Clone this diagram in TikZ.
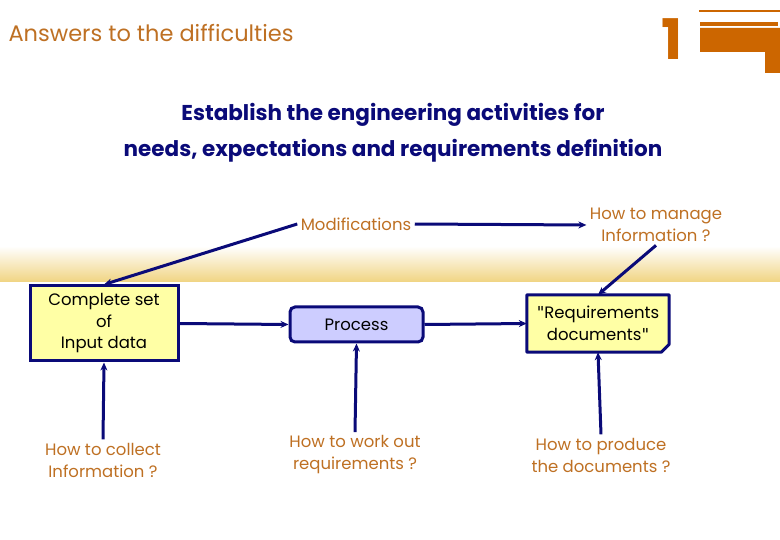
\documentclass[tikz,border=0pt]{standalone}
\usepackage{fontspec}
\setmainfont{Poppins}
\newfontfamily\quotefont{DejaVu Sans}
\usepackage{tikz}
\usetikzlibrary{arrows.meta, positioning}
\definecolor{textbrown}{RGB}{190,112,35}
\definecolor{logoorange}{RGB}{204,102,0}
\definecolor{navyblue}{RGB}{10,10,120}
\definecolor{boxyellow}{RGB}{255,255,165}
\definecolor{proclavender}{RGB}{205,205,255}
\definecolor{bandgold}{RGB}{240,212,130}
\newcommand{\strq}{{\quotefont\symbol{34}}}

\begin{document}
\begin{tikzpicture}[x=1pt, y=-1pt,
  box/.style={draw=navyblue, line width=3pt, fill=boxyellow, align=center,
              font=\fontsize{16.5}{21.5}\selectfont, inner sep=0pt},
  procbox/.style={draw=navyblue, line width=3pt, fill=proclavender, rounded corners=5pt,
                  font=\fontsize{16.5}{21.5}\selectfont, inner sep=0pt,
                  minimum width=133pt, minimum height=35pt},
  question/.style={text=textbrown, align=center, font=\fontsize{16.5}{22}\selectfont},
  arrow/.style={-{Stealth[length=8pt, width=7pt]}, line width=3pt, navyblue}
]
\useasboundingbox (0,0) rectangle (780,540);

% header band
\shade[top color=white, middle color=bandgold!35, bottom color=bandgold] (0,246) rectangle (780,282);

% title and logo
\node[anchor=west, text=textbrown, font=\fontsize{22.5}{26}\selectfont] (title) at (5,33) {Answers to the difficulties};
\node[text=logoorange, font=\fontsize{56}{56}\selectfont\bfseries] (one) at (672,39) {1};
\fill[logoorange] (699,10.5) rectangle (780,12);
\fill[logoorange] (700,22) rectangle (778,26);
\fill[logoorange] (700,28) -- (780,28) -- (780,73) -- (765,73) -- (765,52) -- (700,52) -- cycle;

% heading
\node[text=navyblue, align=center, font=\fontsize{21.5}{36}\selectfont\bfseries] (heading) at (393,132.5)
  {Establish the engineering activities for\\needs, expectations and requirements definition};

% top row
\node[question] (modif) at (356,224) {Modifications};
\node[question] (manage) at (656,225) {How to manage\\Information ?};

% middle row
\node[box, minimum width=148pt, minimum height=75pt] (input) at (104,323.5) {Complete set\\of\\Input data};
\node[procbox] (process) at (356.5,324.5) {Process};
\node[minimum width=142pt, minimum height=57pt, inner sep=0pt] (reqdoc) at (598,323.5) {};
\filldraw[navyblue, line width=3pt, fill=boxyellow, line join=round]
  (reqdoc.north west) -- (reqdoc.north east) -- ([yshift=8pt]reqdoc.south east)
  -- ([xshift=-8pt]reqdoc.south east) -- (reqdoc.south west) -- cycle;
\fill[navyblue] ([yshift=8pt]reqdoc.south east) -- ([xshift=-8pt]reqdoc.south east)
  -- ([xshift=-3pt, yshift=3pt]reqdoc.south east) -- cycle;
\node[align=center, font=\fontsize{16.5}{21.5}\selectfont] (reqtext) at (reqdoc)
  {\strq Requirements\\documents\strq};

% bottom row
\node[question] (collect) at (103,460) {How to collect\\Information ?};
\node[question] (workout) at (355,455) {How to work out\\requirements ?};
\node[question] (produce) at (601,455) {How to produce\\the documents ?};

% arrows
\draw[arrow] (modif.west) -- (input.north);
\draw[arrow] (modif.east) -- (manage.west);
\draw[arrow] (manage.south) -- (reqdoc.north);
\draw[arrow] (input.east) -- (process.west);
\draw[arrow] (process.east) -- (reqdoc.west);
\draw[arrow] (collect.north) -- (input.south);
\draw[arrow] (workout.north) -- (process.south);
\draw[arrow] (produce.north) -- (reqdoc.south);

\end{tikzpicture}
\end{document}
